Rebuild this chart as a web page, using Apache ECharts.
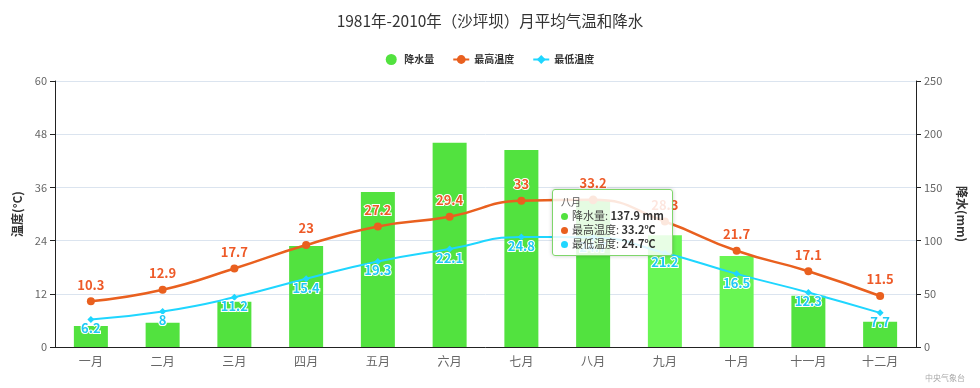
<!DOCTYPE html>
<html>
<head>
<meta charset="utf-8">
<script src="https://cdn.jsdelivr.net/npm/echarts@6/dist/echarts.min.js"></script>
<style>
html,body{margin:0;padding:0;background:#fff;}
#chart{width:980px;height:388px;}
</style>
</head>
<body>
<div id="chart"></div>
<script>
var months = ['一月','二月','三月','四月','五月','六月','七月','八月','九月','十月','十一月','十二月'];
var precipitation = [19.8, 22.8, 42.6, 95.0, 145.7, 192.0, 185.2, 137.9, 105.0, 85.5, 48.2, 23.8];
var highTemp = [10.3, 12.9, 17.7, 23, 27.2, 29.4, 33, 33.2, 28.3, 21.7, 17.1, 11.5];
var lowTemp = [6.2, 8, 11.2, 15.4, 19.3, 22.1, 24.8, 24.7, 21.2, 16.5, 12.3, 7.7];
var tempTicks = [0, 12, 24, 36, 48, 60];
var rainTicks = [0, 50, 100, 150, 200, 250];
var lightBars = [8, 9];

var FONT = '"Noto Sans CJK SC","Noto Sans",sans-serif';
var chart = echarts.init(document.getElementById('chart'), null, {renderer: 'canvas'});

var barData = precipitation.map(function (v, i) {
  return lightBars.indexOf(i) >= 0 ? {value: v, itemStyle: {color: '#69f553'}} : v;
});

var option = {
  animation: false,
  textStyle: {fontFamily: FONT},
  title: {
    text: '1981年-2010年（沙坪坝）月平均气温和降水',
    left: 'center',
    top: 8,
    textStyle: {fontFamily: FONT, fontSize: 15.5, fontWeight: 'normal', color: '#333'}
  },
  legend: {
    top: 49,
    left: 'center',
    itemGap: 18,
    itemWidth: 16,
    itemHeight: 11,
    textStyle: {fontFamily: FONT, fontSize: 10, color: '#333', fontWeight: 'bold'},
    data: [
      {name: '降水量', icon: 'circle'},
      {name: '最高温度'},
      {name: '最低温度'}
    ]
  },
  tooltip: {
    trigger: 'axis',
    alwaysShowContent: true,
    position: [552, 189],
    backgroundColor: 'rgba(255,255,255,0.85)',
    borderColor: '#7fd66b',
    borderWidth: 1.5,
    padding: [5, 8],
    axisPointer: {type: 'none'},
    extraCssText: 'box-shadow:0 0 4px rgba(0,0,0,0.2);border-radius:3px;',
    formatter: function (params) {
      var units = {'降水量': ' mm', '最高温度': '℃', '最低温度': '℃'};
      var s = '<div style="font-size:10px;color:#555;line-height:13px;">' + params[0].name + '</div>';
      params.forEach(function (p) {
        var c = p.seriesIndex === 0 ? '#52e23f' : p.color;
        s += '<div style="font-size:11px;line-height:14px;color:#444;">' +
          '<span style="display:inline-block;width:7px;height:7px;border-radius:50%;background:' + c + ';margin-right:4px;"></span>' +
          p.seriesName + ': <b style="color:#333">' + p.value + units[p.seriesName] + '</b></div>';
      });
      return s;
    }
  },
  grid: {left: 55, right: 64, top: 81, bottom: 41},
  xAxis: {
    type: 'category',
    data: months,
    axisLine: {lineStyle: {color: '#222'}},
    axisTick: {lineStyle: {color: '#222'}, length: 5},
    axisLabel: {color: '#666', fontSize: 12, fontFamily: FONT}
  },
  yAxis: [
    {
      type: 'value',
      name: '温度(°C)',
      nameLocation: 'middle',
      nameGap: 30,
      nameRotate: 90,
      nameTextStyle: {fontFamily: FONT, fontSize: 12, fontWeight: 'bold', color: '#333'},
      min: tempTicks[0],
      max: tempTicks[tempTicks.length - 1],
      interval: tempTicks[1] - tempTicks[0],
      axisLine: {show: true, lineStyle: {color: '#222'}},
      axisTick: {show: true, lineStyle: {color: '#222'}, length: 5},
      axisLabel: {color: '#666', fontSize: 11, fontFamily: FONT},
      splitLine: {lineStyle: {color: '#dbe4ef'}}
    },
    {
      type: 'value',
      name: '降水(mm)',
      nameLocation: 'middle',
      nameGap: 40,
      nameRotate: -90,
      nameTextStyle: {fontFamily: FONT, fontSize: 12, fontWeight: 'bold', color: '#333'},
      min: rainTicks[0],
      max: rainTicks[rainTicks.length - 1],
      interval: rainTicks[1] - rainTicks[0],
      axisLine: {show: true, lineStyle: {color: '#222'}},
      axisTick: {show: true, lineStyle: {color: '#222'}, length: 5},
      axisLabel: {color: '#666', fontSize: 11, fontFamily: FONT},
      splitLine: {show: false}
    }
  ],
  series: [
    {
      name: '降水量',
      type: 'bar',
      yAxisIndex: 1,
      barWidth: 34,
      itemStyle: {color: '#52e23f'},
      emphasis: {disabled: true},
      data: barData
    },
    {
      name: '最高温度',
      type: 'line',
      yAxisIndex: 0,
      smooth: true,
      symbol: 'circle',
      symbolSize: 8,
      emphasis: {disabled: true},
      itemStyle: {color: '#e9601f'},
      lineStyle: {width: 2.5, color: '#e9601f'},
      label: {
        show: true,
        position: 'top',
        distance: 6,
        color: '#ee5a28',
        fontSize: 13,
        fontWeight: 'bold',
        fontFamily: FONT,
        textBorderColor: '#fff',
        textBorderWidth: 2
      },
      data: highTemp
    },
    {
      name: '最低温度',
      type: 'line',
      yAxisIndex: 0,
      smooth: true,
      symbol: 'diamond',
      symbolSize: 7,
      emphasis: {disabled: true},
      itemStyle: {color: '#1fd6ff'},
      lineStyle: {width: 2, color: '#1fd6ff'},
      label: {
        show: true,
        position: 'bottom',
        distance: -1,
        color: '#1fc9f5',
        fontSize: 13,
        fontWeight: 'bold',
        fontFamily: FONT,
        textBorderColor: '#fff',
        textBorderWidth: 2
      },
      data: lowTemp
    }
  ],
  graphic: [
    {
      type: 'text',
      right: 15,
      bottom: 6,
      style: {text: '中央气象台', fill: '#aaa', fontSize: 8, fontFamily: FONT}
    }
  ]
};
chart.setOption(option);
chart.dispatchAction({type: 'showTip', seriesIndex: 0, dataIndex: 7});
</script>
</body>
</html>
